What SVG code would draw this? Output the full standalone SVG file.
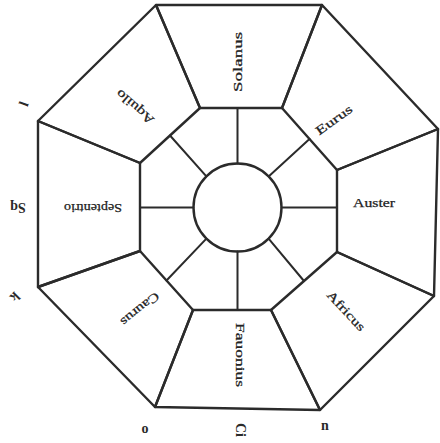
<svg xmlns="http://www.w3.org/2000/svg" width="440" height="443" viewBox="0 0 440 443">
<style>
.p{fill:none;stroke:#2b2b2b;stroke-width:2.4;stroke-linejoin:round;stroke-linecap:round}
.r{fill:none;stroke:#2b2b2b;stroke-width:2;stroke-linecap:round}
.t{font-family:"Liberation Serif","DejaVu Serif",serif;font-size:12.5px;fill:#222;stroke:#222;stroke-width:0.25;text-anchor:middle;dominant-baseline:central}
.m{font-family:"Liberation Serif","DejaVu Serif",serif;font-size:14px;font-weight:bold;fill:#2a2a2a;text-anchor:middle;dominant-baseline:central}
</style>
<rect width="440" height="443" fill="#fff"/>
<g id="solanus"><polygon class="p" points="156,5 322,5 282,108 200,108"/><text class="t" transform="translate(238,62) rotate(-90)" textLength="60" lengthAdjust="spacingAndGlyphs">Solanus</text></g>
<g id="eurus"><polygon class="p" points="322,5 438,129 337,170 282,108"/><text class="t" transform="translate(334,120) rotate(-36)" textLength="42" lengthAdjust="spacingAndGlyphs">Eurus</text></g>
<g id="auster"><polygon class="p" points="438,129 434,296 337,252 337,170"/><text class="t" transform="translate(374,203)" textLength="42" lengthAdjust="spacingAndGlyphs">Auster</text></g>
<g id="africus"><polygon class="p" points="434,296 320,410 271,310 337,252"/><text class="t" transform="translate(346,311) rotate(47)" textLength="50" lengthAdjust="spacingAndGlyphs">Africus</text></g>
<g id="fauonius"><polygon class="p" points="320,410 155,407 193,310 271,310"/><text class="t" transform="translate(240,355) rotate(90)" textLength="64" lengthAdjust="spacingAndGlyphs">Fauonius</text></g>
<g id="caurus"><polygon class="p" points="155,407 38,287 140,251 193,310"/><text class="t" transform="translate(140,309) rotate(141)" textLength="46" lengthAdjust="spacingAndGlyphs">Caurus</text></g>
<g id="septentrio"><polygon class="p" points="38,287 38,121 140,163 140,251"/><text class="t" transform="translate(93,208) rotate(180)" textLength="58" lengthAdjust="spacingAndGlyphs">Septentrio</text></g>
<g id="aquilo"><polygon class="p" points="38,121 156,5 200,108 140,163"/><text class="t" transform="translate(135,107) rotate(-139)" textLength="46" lengthAdjust="spacingAndGlyphs">Aquilo</text></g>
<g id="center"><circle class="p" cx="237.5" cy="207.5" r="44"/></g>
<g id="connectors">
<line class="r" x1="237.5" y1="163.5" x2="237.5" y2="108"/>
<line class="r" x1="237.5" y1="251.5" x2="237.5" y2="310"/>
<line class="r" x1="193.5" y1="207.5" x2="140" y2="207.5"/>
<line class="r" x1="281.5" y1="207.5" x2="337" y2="207.5"/>
<line class="r" x1="206.4" y1="176.4" x2="170" y2="135.5"/>
<line class="r" x1="268.6" y1="176.4" x2="309.5" y2="139"/>
<line class="r" x1="268.6" y1="238.6" x2="304" y2="281"/>
<line class="r" x1="206.4" y1="238.6" x2="166.5" y2="280.5"/>
</g>
<g id="marks">
<text class="m" transform="translate(24,104) rotate(-70)">l</text>
<text class="m" transform="translate(18,207) rotate(180)">Sq</text>
<text class="m" transform="translate(15,297) rotate(135)">k</text>
<text class="m" transform="translate(145,428)">o</text>
<text class="m" transform="translate(240,430) rotate(90)">Ci</text>
<text class="m" transform="translate(325,425)">n</text>
</g>
</svg>
